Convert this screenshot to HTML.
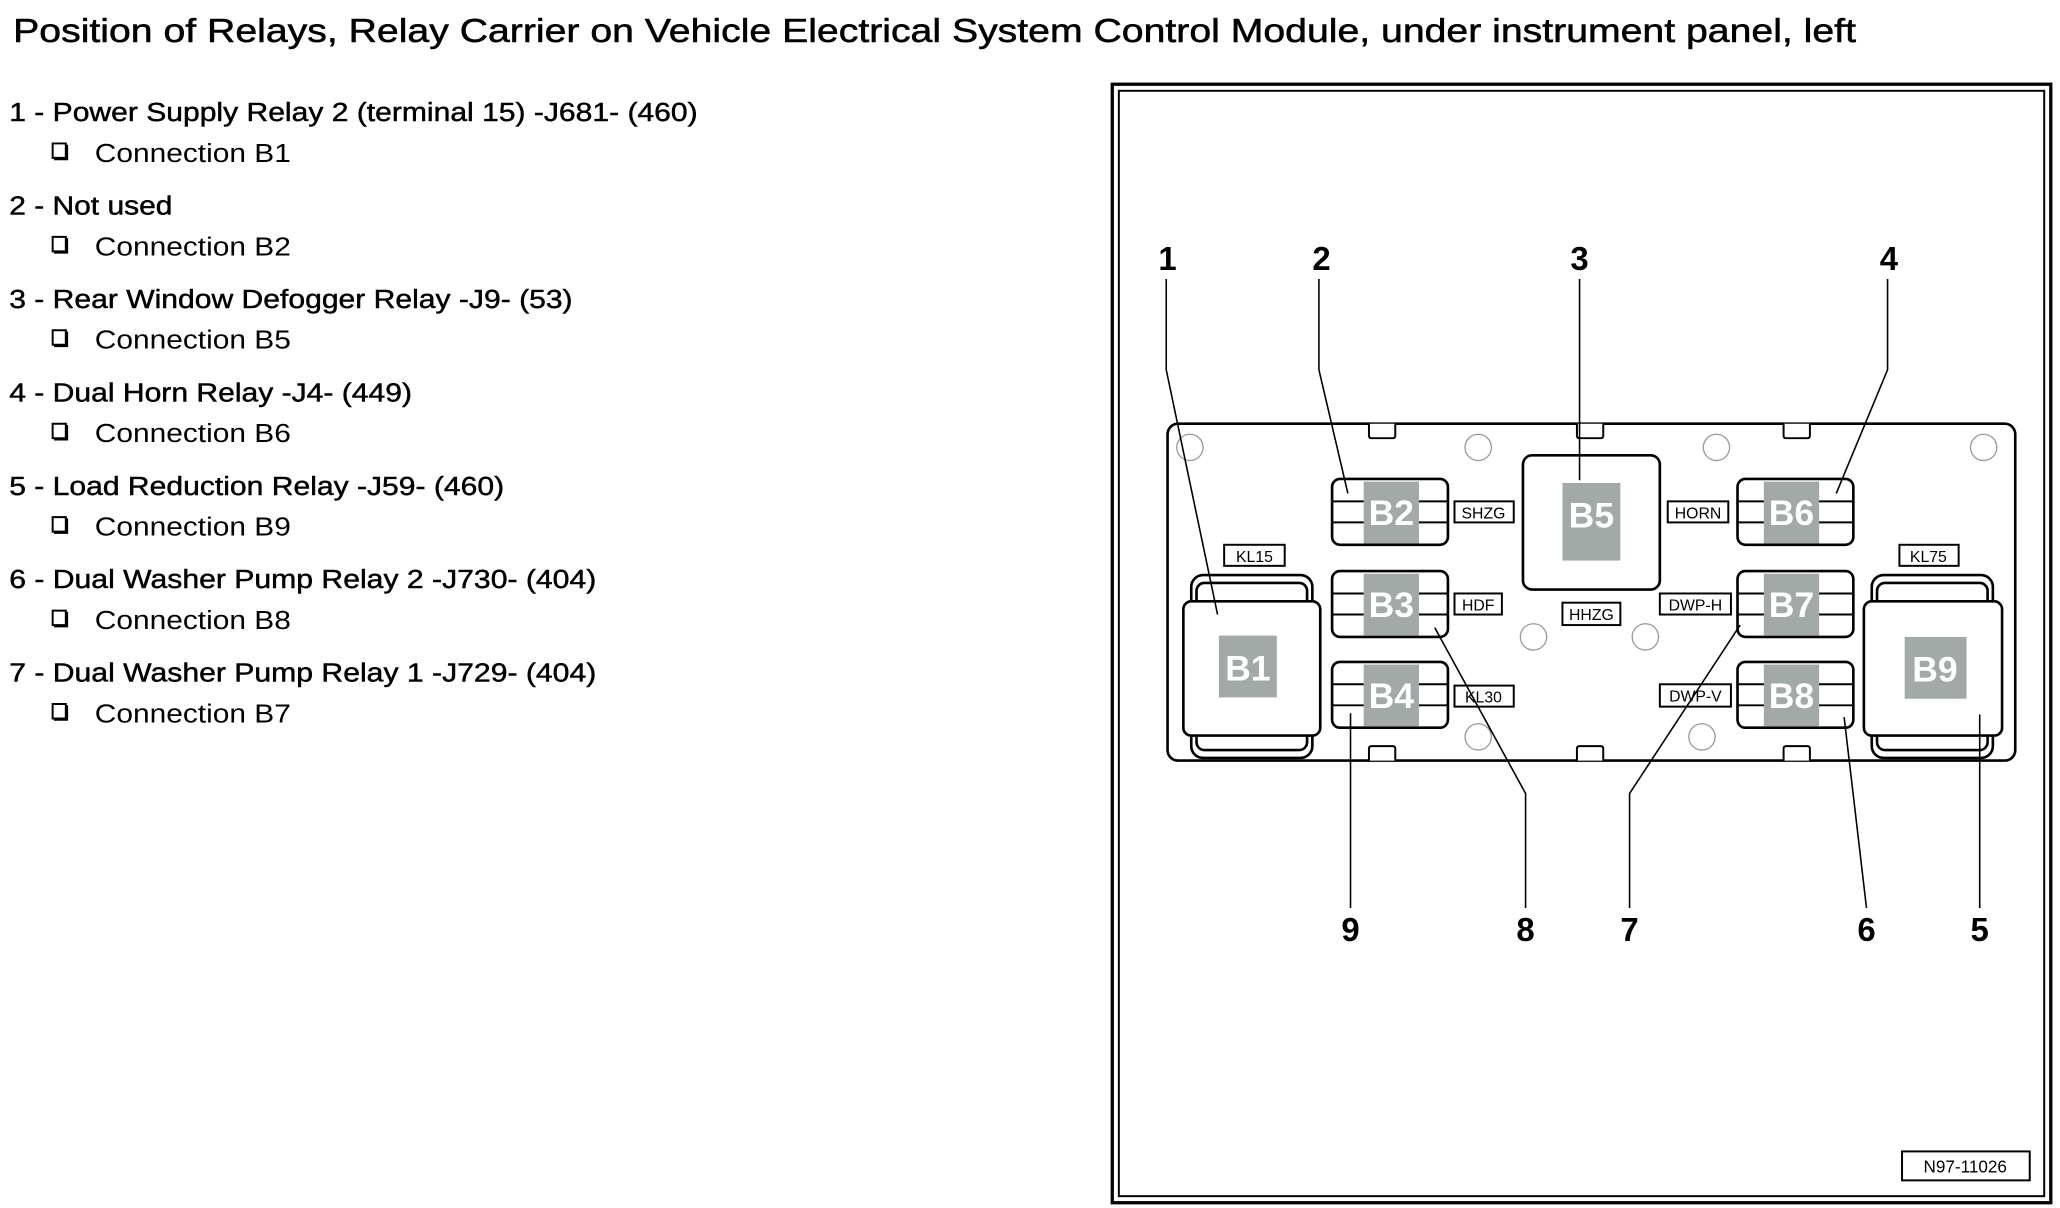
<!DOCTYPE html>
<html><head><meta charset="utf-8"><style>
html,body{margin:0;padding:0;background:#fff;width:2060px;height:1208px;overflow:hidden}
svg{display:block}
text{font-family:"Liberation Sans",Arial,sans-serif}
</style></head><body>
<svg width="2060" height="1208" viewBox="0 0 1565 918" preserveAspectRatio="none" xmlns="http://www.w3.org/2000/svg">
<rect width="1565" height="918" fill="#fff"/>
<text x="10" y="32" font-size="25" stroke="#000" stroke-width="0.4" textLength="1400" lengthAdjust="spacingAndGlyphs">Position of Relays, Relay Carrier on Vehicle Electrical System Control Module, under instrument panel, left</text>
<g font-size="20" stroke="#000" stroke-width="0.35">
<text x="7" y="92" textLength="523" lengthAdjust="spacingAndGlyphs">1 - Power Supply Relay 2 (terminal 15) -J681- (460)</text>
<text x="7" y="163" textLength="124" lengthAdjust="spacingAndGlyphs">2 - Not used</text>
<text x="7" y="234" textLength="428" lengthAdjust="spacingAndGlyphs">3 - Rear Window Defogger Relay -J9- (53)</text>
<text x="7" y="305" textLength="306" lengthAdjust="spacingAndGlyphs">4 - Dual Horn Relay -J4- (449)</text>
<text x="7" y="376" textLength="376" lengthAdjust="spacingAndGlyphs">5 - Load Reduction Relay -J59- (460)</text>
<text x="7" y="447" textLength="446" lengthAdjust="spacingAndGlyphs">6 - Dual Washer Pump Relay 2 -J730- (404)</text>
<text x="7" y="518" textLength="446" lengthAdjust="spacingAndGlyphs">7 - Dual Washer Pump Relay 1 -J729- (404)</text>
</g>
<g font-size="20">
<text x="72" y="123" textLength="149" lengthAdjust="spacingAndGlyphs">Connection B1</text>
<text x="72" y="194" textLength="149" lengthAdjust="spacingAndGlyphs">Connection B2</text>
<text x="72" y="265" textLength="149" lengthAdjust="spacingAndGlyphs">Connection B5</text>
<text x="72" y="336" textLength="149" lengthAdjust="spacingAndGlyphs">Connection B6</text>
<text x="72" y="407" textLength="149" lengthAdjust="spacingAndGlyphs">Connection B9</text>
<text x="72" y="478" textLength="149" lengthAdjust="spacingAndGlyphs">Connection B8</text>
<text x="72" y="549" textLength="149" lengthAdjust="spacingAndGlyphs">Connection B7</text>
</g>
<g fill="none" stroke="#000">
<g stroke-width="1.5">
<path d="M40 109h10v11h-10z M41 121h10v-11" />
<path d="M40 180h10v11h-10z M41 192h10v-11" />
<path d="M40 251h10v11h-10z M41 263h10v-11" />
<path d="M40 322h10v11h-10z M41 334h10v-11" />
<path d="M40 393h10v11h-10z M41 405h10v-11" />
<path d="M40 464h10v11h-10z M41 476h10v-11" />
<path d="M40 535h10v11h-10z M41 547h10v-11" />
</g>
<rect x="845" y="64" width="713" height="850" stroke-width="2.5"/>
<rect x="850" y="69" width="703" height="840" stroke-width="1.5"/>
<rect x="887" y="322" width="644" height="256" rx="8" stroke-width="2"/>
</g>
<g fill="#fff" stroke="#000" stroke-width="1.5">
<path d="M1040 322 v9 q0 2 2 2 h16 q2 0 2-2 v-9"/><path d="M1198 322 v9 q0 2 2 2 h16 q2 0 2-2 v-9"/><path d="M1355 322 v9 q0 2 2 2 h16 q2 0 2-2 v-9"/>
<path d="M1040 578 v-9 q0-2 2-2 h16 q2 0 2 2 v9"/><path d="M1198 578 v-9 q0-2 2-2 h16 q2 0 2 2 v9"/><path d="M1355 578 v-9 q0-2 2-2 h16 q2 0 2 2 v9"/>
</g>
<g fill="none" stroke="#999" stroke-width="1">
<circle cx="904" cy="340" r="10"/><circle cx="1123" cy="340" r="10"/><circle cx="1304" cy="340" r="10"/><circle cx="1507" cy="340" r="10"/>
<circle cx="1165" cy="484" r="10"/><circle cx="1250" cy="484" r="10"/><circle cx="1123" cy="560" r="10"/><circle cx="1293" cy="560" r="10"/>
</g>
<g stroke="#000" stroke-width="2" fill="#fff">
<rect x="905" y="437" width="92" height="30" rx="9"/><rect x="909" y="443" width="84" height="20" rx="6"/>
<rect x="905" y="548" width="92" height="28" rx="9"/><rect x="909" y="548" width="84" height="22" rx="6"/>
<rect x="899" y="457" width="104" height="102" rx="6"/>
<rect x="1422" y="437" width="92" height="30" rx="9"/><rect x="1426" y="443" width="84" height="20" rx="6"/>
<rect x="1422" y="548" width="92" height="28" rx="9"/><rect x="1426" y="548" width="84" height="22" rx="6"/>
<rect x="1416" y="457" width="105" height="102" rx="6"/>
<rect x="1157" y="346" width="104" height="102" rx="7"/>
</g>
<g fill="#a2a9a6">
<rect x="926" y="483" width="44" height="47"/><rect x="1447" y="484" width="47" height="47"/><rect x="1187" y="367" width="44" height="59"/>
</g>
<g font-size="27" font-weight="bold" fill="#fff" text-anchor="middle">
<text x="948" y="517">B1</text><text x="1470" y="518">B9</text><text x="1209" y="401">B5</text>
</g>
<g stroke="#000" stroke-width="2" fill="#fff">
<rect x="1012" y="364" width="88" height="50" rx="6"/><rect x="1012" y="434" width="88" height="50" rx="6"/><rect x="1012" y="503" width="88" height="50" rx="6"/>
<rect x="1320" y="364" width="88" height="50" rx="6"/><rect x="1320" y="434" width="88" height="50" rx="6"/><rect x="1320" y="503" width="88" height="50" rx="6"/>
</g>
<g fill="#a2a9a6">
<rect x="1036" y="366" width="42" height="47"/><rect x="1036" y="436" width="42" height="47"/><rect x="1036" y="505" width="42" height="47"/>
<rect x="1340" y="366" width="42" height="47"/><rect x="1340" y="436" width="42" height="47"/><rect x="1340" y="505" width="42" height="47"/>
</g>
<g stroke="#000" stroke-width="1.5">
<path d="M1012 381H1036M1078 381H1100M1012 397H1036M1078 397H1100"/>
<path d="M1012 451H1036M1078 451H1100M1012 467H1036M1078 467H1100"/>
<path d="M1012 520H1036M1078 520H1100M1012 536H1036M1078 536H1100"/>
<path d="M1320 381H1340M1382 381H1408M1320 397H1340M1382 397H1408"/>
<path d="M1320 451H1340M1382 451H1408M1320 467H1340M1382 467H1408"/>
<path d="M1320 520H1340M1382 520H1408M1320 536H1340M1382 536H1408"/>
</g>
<g font-size="27" font-weight="bold" fill="#fff" text-anchor="middle">
<text x="1057" y="399">B2</text><text x="1057" y="469">B3</text><text x="1057" y="538">B4</text>
<text x="1361" y="399">B6</text><text x="1361" y="469">B7</text><text x="1361" y="538">B8</text>
</g>
<g fill="#fff" stroke="#000" stroke-width="1.5">
<rect x="1105" y="381" width="45" height="16"/><rect x="1105" y="451" width="36" height="16"/><rect x="1105" y="521" width="45" height="16"/>
<rect x="1267" y="381" width="46" height="16"/><rect x="1261" y="451" width="54" height="16"/><rect x="1261" y="520" width="54" height="17"/>
<rect x="1187" y="458" width="44" height="17"/><rect x="930" y="414" width="46" height="16"/><rect x="1443" y="414" width="45" height="16"/>
<rect x="1445" y="875" width="97" height="22"/>
</g>
<g font-size="12" fill="#000" text-anchor="middle">
<text x="1127" y="394">SHZG</text><text x="1123" y="464">HDF</text><text x="1127" y="534">KL30</text>
<text x="1290" y="394">HORN</text><text x="1288" y="464">DWP-H</text><text x="1288" y="533">DWP-V</text>
<text x="1209" y="471">HHZG</text><text x="953" y="427">KL15</text><text x="1465" y="427">KL75</text>
<text x="1493" y="891" font-size="13">N97-11026</text>
</g>
<g font-size="25" font-weight="bold" fill="#000" text-anchor="middle">
<text x="887" y="205">1</text><text x="1004" y="205">2</text><text x="1200" y="205">3</text><text x="1435" y="205">4</text>
<text x="1026" y="715">9</text><text x="1159" y="715">8</text><text x="1238" y="715">7</text><text x="1418" y="715">6</text><text x="1504" y="715">5</text>
</g>
<g fill="none" stroke="#000" stroke-width="1.2">
<path d="M886 212V281L925 467"/>
<path d="M1002 212V281L1024 375"/>
<path d="M1200 212V365"/>
<path d="M1434 212V281L1395 375"/>
<path d="M1026 690V542"/>
<path d="M1159 690V603L1090 477"/>
<path d="M1238 690V603L1322 475"/>
<path d="M1418 690L1401 545"/>
<path d="M1504 690V543"/>
</g>
</svg>
</body></html>
